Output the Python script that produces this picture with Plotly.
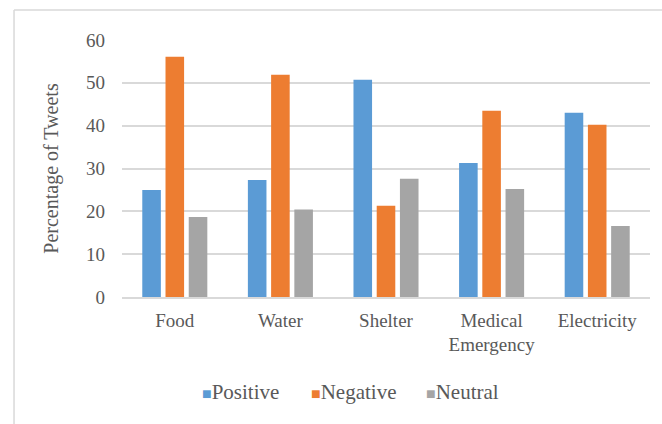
import plotly.graph_objects as go

categories = ["Food", "Water", "Shelter", "Medical<br>Emergency", "Electricity"]
positive = [25.0, 27.3, 50.7, 31.3, 43.0]
negative = [56.1, 51.9, 21.3, 43.5, 40.2]
neutral = [18.7, 20.4, 27.6, 25.2, 16.6]

series_names = ["Positive", "Negative", "Neutral"]
series_values = [positive, negative, neutral]
series_colors = ["#5b9bd5", "#ed7d31", "#a5a5a5"]

fig = go.Figure()
for name, vals, color in zip(series_names, series_values, series_colors):
    fig.add_trace(go.Bar(x=categories, y=vals, name=name, marker_color=color,
                         marker_line_width=0, showlegend=False))

# Legend row: coloured square followed by the series name
legend_x = [0.2235, 0.439, 0.644]
annotations = []
for name, color, lx in zip(series_names, series_colors, legend_x):
    annotations.append(dict(
        xref="paper", yref="paper", x=lx, y=-0.37, xanchor="center", yanchor="middle",
        showarrow=False,
        text=f"<span style='color:{color};font-size:16px'>■</span>{name}",
        font=dict(size=21, color="#595959"),
    ))

font_family = "Liberation Serif, Times New Roman, serif"
border = dict(color="#d9d9d9", width=1.5)
fig.update_layout(
    width=662, height=424,
    margin=dict(l=122, r=12, t=40, b=127),
    paper_bgcolor="white", plot_bgcolor="white",
    barmode="group", bargap=0.34, bargroupgap=0.2,
    font=dict(family=font_family, color="#595959", size=19),
    annotations=annotations,
    shapes=[
        dict(type="line", xref="paper", yref="paper", x0=-0.2045, x1=1.03,
             y0=1.1167, y1=1.1167, line=border),
        dict(type="line", xref="paper", yref="paper", x0=-0.2045, x1=-0.2045,
             y0=-0.5, y1=1.1167, line=border),
    ],
)
fig.update_yaxes(range=[0, 60], dtick=10, showgrid=True, gridcolor="#d9d9d9",
                 gridwidth=1.5, zeroline=False, showline=False, ticks="",
                 tickfont=dict(size=19), ticklabelstandoff=16,
                 title=dict(text="Percentage of Tweets", font=dict(size=20), standoff=22))
fig.update_xaxes(showline=True, linecolor="#d9d9d9", linewidth=1.5, ticks="",
                 tickfont=dict(size=19), showgrid=False, ticklabelstandoff=5)

fig.write_html("out.html")
